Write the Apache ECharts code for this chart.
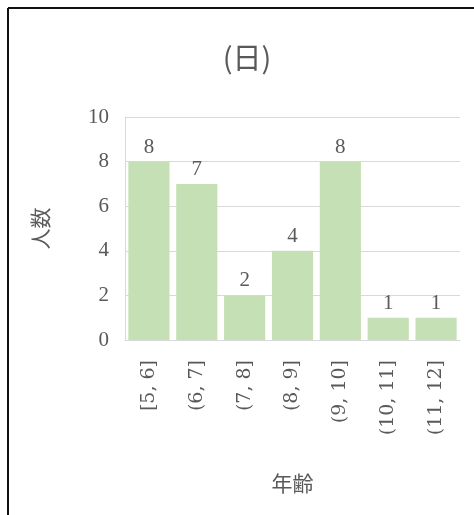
<!DOCTYPE html>
<html>
<head>
<meta charset="utf-8">
<script src="https://cdn.jsdelivr.net/npm/echarts@6/dist/echarts.min.js"></script>
<style>
html,body{margin:0;padding:0;background:#fff;}
#chart{width:474px;height:515px;}
</style>
</head>
<body>
<div id="chart"></div>
<script>
const categories = ['[5, 6]', '(6, 7]', '(7, 8]', '(8, 9]', '(9, 10]', '(10, 11]', '(11, 12]'];
const counts = [8, 7, 2, 4, 8, 1, 1];
const titleText = '(日)';
const xName = '年齢';
const yName = '人数';

const chart = echarts.init(document.getElementById('chart'));
const serif = '"Liberation Serif", "DejaVu Serif", serif';
const wideSerif = '"DejaVu Serif", "Liberation Serif", serif';
const cjk = '"Noto Sans CJK JP", "Noto Sans", sans-serif';
chart.setOption({
  animation: false,
  backgroundColor: '#fff',
  title: {
    text: titleText,
    left: 242, top: 38, textAlign: 'center',
    textStyle: {fontFamily: cjk, fontSize: 29, fontWeight: 'normal', color: '#595959'}
  },
  graphic: [
    {type: 'line', shape: {x1: 8, y1: 8, x2: 474, y2: 8}, style: {stroke: '#111', lineWidth: 2}},
    {type: 'line', shape: {x1: 8, y1: 8, x2: 8, y2: 515}, style: {stroke: '#111', lineWidth: 2}}
  ],
  grid: {left: 125, right: 14, top: 117, bottom: 175},
  xAxis: {
    type: 'category',
    data: categories,
    name: xName,
    nameLocation: 'middle',
    nameGap: 133,
    nameTextStyle: {fontFamily: cjk, fontSize: 21, color: '#595959'},
    axisLine: {show: true, lineStyle: {color: '#d9d9d9', width: 1}},
    axisTick: {show: false},
    axisLabel: {rotate: 90, fontFamily: wideSerif, fontSize: 19, color: '#595959', margin: 20}
  },
  yAxis: {
    type: 'value',
    min: 0, max: 10, interval: 2,
    name: yName,
    nameLocation: 'middle',
    nameRotate: 90,
    nameGap: 74,
    nameTextStyle: {fontFamily: cjk, fontSize: 21, color: '#595959'},
    axisLine: {show: true, lineStyle: {color: '#d9d9d9', width: 1}},
    axisTick: {show: false},
    axisLabel: {fontFamily: serif, fontSize: 21, color: '#595959', margin: 16},
    splitLine: {lineStyle: {color: '#d9d9d9', width: 1}}
  },
  series: [{
    type: 'bar',
    data: counts,
    barCategoryGap: '14%',
    itemStyle: {color: '#c5e0b4'},
    label: {show: true, position: 'top', distance: 4, fontFamily: serif, fontSize: 21, color: '#595959'}
  }]
});
</script>
</body>
</html>
